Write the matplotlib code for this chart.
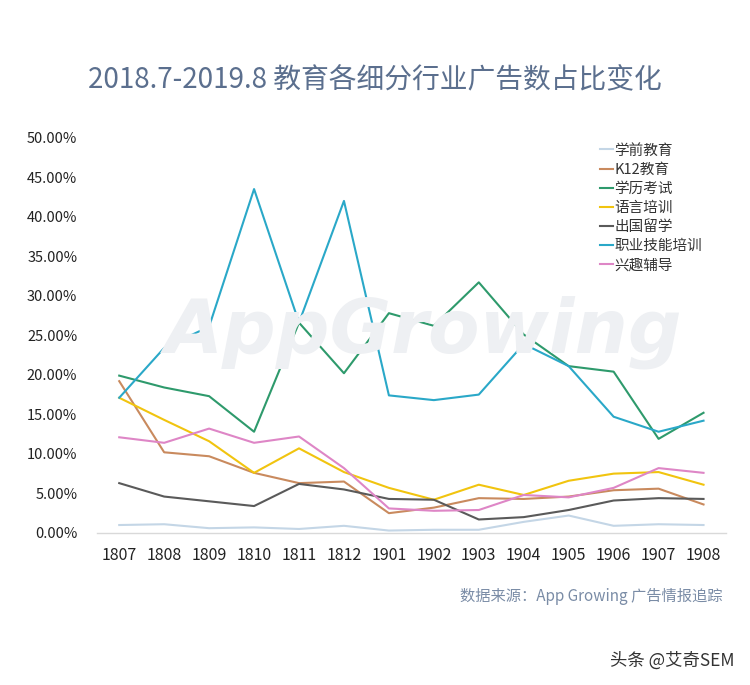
import matplotlib
matplotlib.use('Agg')
import matplotlib.pyplot as plt
import numpy as np

plt.rcParams['font.family'] = ['Noto Sans CJK SC', 'DejaVu Sans']

# 数据：月份与各细分行业广告数占比（%）
months = ['1807', '1808', '1809', '1810', '1811', '1812', '1901',
          '1902', '1903', '1904', '1905', '1906', '1907', '1908']

preschool = [1.0, 1.1, 0.6, 0.7, 0.5, 0.9, 0.3, 0.4, 0.4, 1.4, 2.2, 0.9, 1.1, 1.0]
k12 = [19.2, 10.2, 9.7, 7.6, 6.3, 6.5, 2.5, 3.2, 4.4, 4.3, 4.6, 5.4, 5.6, 3.6]
degree_exam = [19.9, 18.4, 17.3, 12.8, 26.6, 20.2, 27.8, 26.2, 31.7, 25.1, 21.1, 20.4, 11.9, 15.2]
language = [17.1, 14.3, 11.6, 7.6, 10.7, 7.7, 5.7, 4.2, 6.1, 4.8, 6.6, 7.5, 7.7, 6.1]
study_abroad = [6.3, 4.6, 4.0, 3.4, 6.2, 5.5, 4.3, 4.2, 1.7, 2.0, 2.9, 4.1, 4.4, 4.3]
vocational = [17.1, 23.4, 26.1, 43.5, 26.6, 42.0, 17.4, 16.8, 17.5, 23.9, 21.1, 14.7, 12.8, 14.2]
hobby = [12.1, 11.4, 13.2, 11.4, 12.2, 8.2, 3.1, 2.8, 2.9, 4.8, 4.5, 5.7, 8.2, 7.6]

series_names = ['学前教育', 'K12教育', '学历考试', '语言培训', '出国留学', '职业技能培训', '兴趣辅导']
series_values = [preschool, k12, degree_exam, language, study_abroad, vocational, hobby]
series_colors = ['#c4d6e6', '#c98a5e', '#2e9a6c', '#f1c40f', '#5a5a5a', '#2aa8c8', '#de86c6']

fig = plt.figure(figsize=(7.5, 6.85), dpi=100)
ax = fig.add_axes([0.129, 0.222, 0.839, 0.577])

# 背景水印
fig.text(0.565, 0.515, 'AppGrowing', fontsize=54, fontweight='bold', style='italic',
         color='#eef0f3', ha='center', va='center', zorder=0,
         family=['DejaVu Sans'])

x = np.arange(len(months))
for name, vals, c in zip(series_names, series_values, series_colors):
    ax.plot(x, vals, color=c, linewidth=1.5, label=name)

ax.set_xlim(-0.5, len(months) - 0.5)
ax.set_ylim(0, 50)
ax.set_xticks(x)
ax.set_xticklabels(months, fontsize=11.5, color='#222222')
ax.set_yticks(np.arange(0, 51, 5))
ax.set_yticklabels([f'{v:.2f}%' for v in np.arange(0, 51, 5)], fontsize=10.5, color='#222222')
ax.tick_params(axis='both', length=0)
ax.tick_params(axis='x', pad=10)
ax.tick_params(axis='y', pad=14)
for s in ['top', 'right', 'left']:
    ax.spines[s].set_visible(False)
ax.spines['bottom'].set_color('#d9d9d9')
ax.spines['bottom'].set_linewidth(1)
ax.patch.set_alpha(0)

leg = ax.legend(loc='upper left', bbox_to_anchor=(0.79, 1.0), frameon=False,
                fontsize=10.5, handlelength=0.9, handletextpad=0.1,
                labelspacing=0.35, borderaxespad=0)
for t in leg.get_texts():
    t.set_color('#333333')

fig.text(0.5, 0.883, '2018.7-2019.8 教育各细分行业广告数占比变化', fontsize=20,
         color='#5b6f8e', ha='center', va='center')
fig.text(0.963, 0.129, '数据来源：App Growing 广告情报追踪', fontsize=11,
         color='#7a8ca6', ha='right', va='center')
fig.text(0.98, 0.036, '头条 @艾奇SEM', fontsize=12.5, color='#333333',
         ha='right', va='center')

fig.savefig('out.png', dpi=100, facecolor='white')
